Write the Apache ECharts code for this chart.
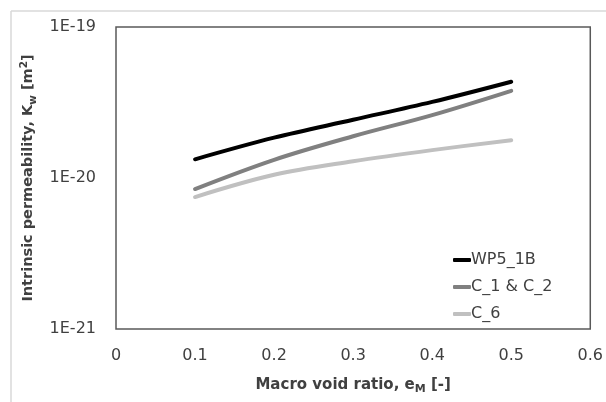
<!DOCTYPE html>
<html>
<head>
<meta charset="utf-8">
<script src="https://cdn.jsdelivr.net/npm/echarts@6/dist/echarts.min.js"></script>
<style>
html,body{margin:0;padding:0;background:#fff;}
#chart{width:606px;height:402px;}
</style>
</head>
<body>
<div id="chart"></div>
<script>
const xValues = [0.1, 0.2, 0.3, 0.4, 0.5];
const seriesNames = ['WP5_1B', 'C_1 & C_2', 'C_6'];
const wp5_1b = [1.33e-20, 1.85e-20, 2.43e-20, 3.19e-20, 4.34e-20];
const c1c2 = [8.45e-21, 1.32e-20, 1.89e-20, 2.61e-20, 3.78e-20];
const c6 = [7.48e-21, 1.05e-20, 1.29e-20, 1.53e-20, 1.78e-20];
const yTicks = [1e-21, 1e-20, 1e-19];
const yTickLabels = ['1E-21', '1E-20', '1E-19'];
// values are plotted in units of 1e-21 m^2 (ECharts rounds below 1e-20)
const UNIT = 1e-21;
const UNIT_EXP = -21;

const FONT = 'DejaVu Sans';
const TXT = '#404040';
function pairs(ys){ return xValues.map((x,i)=>[x, ys[i] / UNIT]); }

const chart = echarts.init(document.getElementById('chart'), null, {renderer:'canvas'});
const lineColors = ['#000000', '#808080', '#c0c0c0'];
const seriesData = [wp5_1b, c1c2, c6];

chart.setOption({
  backgroundColor: '#ffffff',
  animation: false,
  textStyle: {fontFamily: FONT},
  graphic: [
    {type:'line', shape:{x1:11, y1:11, x2:606, y2:11}, style:{stroke:'#d9d9d9', lineWidth:1.5}},
    {type:'line', shape:{x1:11, y1:11, x2:11, y2:402}, style:{stroke:'#d9d9d9', lineWidth:1.5}}
  ],
  grid: {left:116, right:13, top:27, bottom:73, show:true, borderColor:'#595959', borderWidth:1.5, backgroundColor:'transparent'},
  legend: {
    orient:'vertical', left:448, top:247, itemGap:11, itemWidth:18, itemHeight:4,
    icon:'roundRect',
    data: seriesNames,
    textStyle:{fontFamily:FONT, fontSize:16, color:TXT, lineHeight:16, padding:[0,0,0,-5]}
  },
  xAxis: {
    type:'value', min:0, max:0.6, interval:0.1,
    axisLine:{show:false}, axisTick:{show:false}, splitLine:{show:false},
    axisLabel:{fontFamily:FONT, fontSize:16, color:TXT, margin:19},
    name:'Macro void ratio, e{sub|M} [-]',
    nameLocation:'middle', nameGap:46,
    nameTextStyle:{fontFamily:FONT, fontSize:15, fontWeight:'bold', color:TXT, lineHeight:20,
      rich:{sub:{fontFamily:FONT, fontSize:11, fontWeight:'bold', color:TXT, verticalAlign:'bottom', lineHeight:12}}}
  },
  yAxis: {
    type:'log', logBase:10, min:yTicks[0]/UNIT, max:yTicks[yTicks.length-1]/UNIT,
    axisLine:{show:false}, axisTick:{show:false}, splitLine:{show:false}, minorTick:{show:false},
    axisLabel:{fontFamily:FONT, fontSize:16, color:TXT, margin:20,
      formatter: v => {
        const e = Math.round(Math.log10(v)) + UNIT_EXP;
        const idx = yTicks.findIndex(t => Math.round(Math.log10(t)) === e);
        return idx >= 0 ? yTickLabels[idx] : '';
      }},
    name:'Intrinsic permeability, K{sub|w} [m{sup|2}]',
    nameLocation:'middle', nameGap:64,
    nameTextStyle:{fontFamily:FONT, fontSize:14.5, fontWeight:'bold', color:TXT, lineHeight:20,
      rich:{
        sub:{fontFamily:FONT, fontSize:10.5, fontWeight:'bold', color:TXT, verticalAlign:'bottom', lineHeight:12},
        sup:{fontFamily:FONT, fontSize:10.5, fontWeight:'bold', color:TXT, verticalAlign:'top', lineHeight:12}
      }}
  },
  series: seriesNames.map((n,i)=>({
    name:n, type:'line', data:pairs(seriesData[i]), smooth:0.35, symbol:'none',
    lineStyle:{color:lineColors[i], width:4, cap:'round'},
    itemStyle:{color:lineColors[i]}
  }))
});
</script>
</body>
</html>
